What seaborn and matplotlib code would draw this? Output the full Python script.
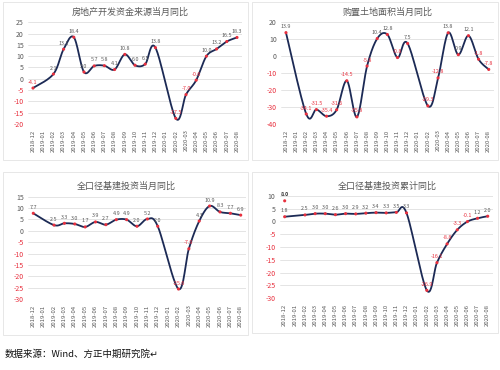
import numpy as np
import pandas as pd
import matplotlib
matplotlib.use("Agg")
import matplotlib.pyplot as plt
import seaborn as sns
from matplotlib.patches import Rectangle

nan = np.nan

# x categories
months = ["2018-12", "2019-01", "2019-02", "2019-03", "2019-04", "2019-05",
          "2019-06", "2019-07", "2019-08", "2019-09", "2019-10", "2019-11",
          "2019-12", "2020-01", "2020-02", "2020-03", "2020-04", "2020-05",
          "2020-06", "2020-07", "2020-08"]

# series (Jan has no own value: Jan-Feb combined)
funds_yoy = [-4.1, nan, 2.1, 13.1, 18.4, 3.0, 5.7, 5.8, 4.1, 10.8, 6.0, 6.5,
             13.8, nan, -17.5, -7.0, -0.6, 10.0, 13.2, 16.5, 18.3]
land_yoy = [13.9, nan, -34.1, -31.5, -35.4, -31.6, -14.5, -35.8, -5.8, 10.4,
            12.8, -0.8, 7.5, nan, -29.3, -12.8, 13.8, 0.9, 12.1, -1.8, -7.8]
infra_yoy = [7.7, nan, 2.5, 3.3, 3.0, 1.7, 3.9, 2.7, 4.9, 4.9, 2.0, 5.2,
             2.0, nan, -25.6, -7.9, 4.3, 10.9, 8.3, 7.7, 6.9]
infra_cum_yoy = [1.8, nan, 2.5, 3.0, 3.0, 2.6, 3.0, 2.9, 3.2, 3.4, 3.3, 3.5,
                 3.3, nan, -26.9, -16.1, -8.8, -3.3, -0.1, 1.2, 2.0]
# stray marker in the last chart
extra_month = "2018-12"
extra_value = 8.0

titles = ["房地产开发资金来源当月同比", "购置土地面积当月同比",
          "全口径基建投资当月同比", "全口径基建投资累计同比"]
source = "数据来源：Wind、方正中期研究院"

NAVY = "#1c2a55"
RED = "#e8303e"
GRAY = "#595959"


def smooth_curve(xs, ys, n=24):
    # Excel-style smoothed line: cubic Bezier with neighbour-based control points
    pts = np.column_stack([xs, ys]).astype(float)
    out = [pts[:1]]
    t = np.linspace(0, 1, n)[1:, None]
    for i in range(len(pts) - 1):
        p0 = pts[max(i - 1, 0)]
        p1, p2 = pts[i], pts[i + 1]
        p3 = pts[min(i + 2, len(pts) - 1)]
        c1 = p1 + (p2 - p0) / 6
        c2 = p2 - (p3 - p1) / 6
        seg = (1 - t) ** 3 * p1 + 3 * (1 - t) ** 2 * t * c1 + 3 * (1 - t) * t ** 2 * c2 + t ** 3 * p2
        out.append(seg)
    return np.vstack(out)


sns.set_style("white")
plt.rcParams["font.family"] = ["Noto Sans CJK SC", "DejaVu Sans"]

fig = plt.figure(figsize=(5, 3.7), dpi=100)
W, H = 500, 370

# panel frames (pixels: x0, y0, x1, y1)
for x0, y0, x1, y1 in [(3, 2, 248, 160), (252, 2, 498, 160),
                       (3, 172, 248, 335), (252, 172, 498, 333)]:
    fig.patches.append(Rectangle((x0 / W, 1 - y1 / H), (x1 - x0) / W, (y1 - y0) / H,
                                 transform=fig.transFigure, fill=False,
                                 edgecolor="#e3e3e3", lw=0.6))

panels = [
    (titles[0], funds_yoy, (-20, 25), 5, [27.9, 22.3, 242.1, 124.0], (130, 12)),
    (titles[1], land_yoy, (-40, 20), 10, [280.9, 22.3, 493.8, 124.0], (388, 12)),
    (titles[2], infra_yoy, (-30, 15), 5, [28.1, 196.7, 245.9, 299.0], (126, 186)),
    (titles[3], infra_cum_yoy, (-30, 10), 5, [279.6, 195.7, 492.8, 298.3], (387, 186)),
]

for k, (title, vals, (lo, hi), step, (x0, y0, x1, y1), (tx, ty)) in enumerate(panels):
    ax = fig.add_axes([x0 / W, 1 - y1 / H, (x1 - x0) / W, (y1 - y0) / H])
    df = pd.DataFrame({"idx": range(len(months)), "val": vals}).dropna()
    curve = smooth_curve(df["idx"].values, df["val"].values)
    sns.lineplot(x=curve[:, 0], y=curve[:, 1], ax=ax, color=NAVY, lw=1.3,
                 sort=False, estimator=None)
    sns.scatterplot(data=df, x="idx", y="val", ax=ax, color=RED, s=5,
                    edgecolor="none", zorder=3)
    for i, v in zip(df["idx"], df["val"]):
        ax.annotate(f"{v:.1f}", (i, v), xytext=(0, 2.5), textcoords="offset points",
                    ha="center", va="bottom", fontsize=3.9,
                    color=RED if v < 0 else GRAY)
    if k == 3:
        xi = months.index(extra_month)
        sns.scatterplot(x=[xi], y=[extra_value], ax=ax, color=RED, s=5,
                        edgecolor="none", zorder=3)
        ax.annotate(f"{extra_value:.1f}", (xi, extra_value), xytext=(0, 2.5),
                    textcoords="offset points", ha="center", va="bottom",
                    fontsize=3.9, fontweight="bold", color="#333333")

    ax.set_xlim(-0.5, len(months) - 0.5)
    ax.set_ylim(lo, hi)
    ax.set_xticks(range(len(months)))
    ax.set_xticklabels(months, rotation=90, fontsize=4.3, color=GRAY)
    yt = np.arange(lo, hi + 1, step)
    ax.set_yticks(yt)
    ax.set_yticklabels([str(int(v)) for v in yt], fontsize=5)
    for lab, v in zip(ax.get_yticklabels(), yt):
        lab.set_color(RED if v < 0 else GRAY)
    ax.tick_params(length=0, pad=3)
    ax.tick_params(axis="x", pad=4)
    ax.yaxis.grid(True, color="#d9d9d9", lw=0.5)
    ax.set_axisbelow(True)
    for s in ax.spines.values():
        s.set_visible(False)
    ax.set_xlabel("")
    ax.set_ylabel("")
    ax.set_facecolor("none")
    fig.text(tx / W, 1 - ty / H, title, ha="center", va="center",
             fontsize=6.5, color=GRAY)

fig.text(5 / W, 1 - 354 / H, source + "↵", ha="left", va="center",
         fontsize=6.8, color="#111111")

fig.savefig("out.png", dpi=100)
plt.close(fig)
